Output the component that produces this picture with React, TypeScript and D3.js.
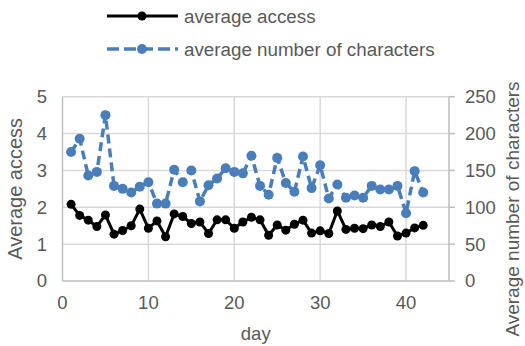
import React from "react";
import * as d3 from "d3";

const days: number[] = Array.from({ length: 42 }, (_, i) => i + 1);

const averageAccess: number[] = [
  2.08, 1.78, 1.65, 1.48, 1.79, 1.27, 1.37, 1.5, 1.95, 1.43,
  1.63, 1.2, 1.82, 1.75, 1.56, 1.6, 1.29, 1.66, 1.66, 1.43,
  1.6, 1.73, 1.66, 1.24, 1.52, 1.38, 1.54, 1.65, 1.3, 1.36,
  1.29, 1.9, 1.4, 1.43, 1.42, 1.52, 1.48, 1.6, 1.22, 1.3,
  1.44, 1.51,
];

const averageChars: number[] = [
  175, 193, 143, 148, 225, 129, 125, 120, 128, 134,
  105, 105, 151, 134, 150, 108, 130, 139, 153, 148,
  146, 170, 129, 117, 167, 133, 121, 169, 126, 157,
  112, 131, 113, 116, 113, 129, 124, 124, 129, 92,
  149, 120,
];

const xTicks: number[] = [0, 10, 20, 30, 40];
const yLeftTicks: number[] = [0, 1, 2, 3, 4, 5];
const yRightTicks: number[] = [0, 50, 100, 150, 200, 250];

const seriesNames: string[] = ["average access", "average number of characters"];

const W = 525;
const H = 346;
const left = 62.5;
const right = 449;
const top = 96.7;
const bottom = 281;

const BLUE = "#4a7ebb";
const TEXT = "#595959";
const GRID = "#d9d9d9";
const AXIS = "#bfbfbf";
const FONT = "'Liberation Sans', Arial, sans-serif";

export default function App() {
  const x = d3.scaleLinear().domain([0, 45]).range([left, right]);
  const yL = d3.scaleLinear().domain([0, 5]).range([bottom, top]);
  const yR = d3.scaleLinear().domain([0, 250]).range([bottom, top]);

  const blackLine = d3
    .line<number>()
    .x((_, i) => x(days[i]))
    .y((d) => yL(d))(averageAccess) as string;
  const blueLine = d3
    .line<number>()
    .x((_, i) => x(days[i]))
    .y((d) => yR(d))(averageChars) as string;

  return (
    <svg
      width={W}
      height={H}
      style={{ position: "absolute", left: 0, top: 0, background: "#fff" }}
      fontFamily={FONT}
    >
      <rect width={W} height={H} fill="#fff" />
      {yLeftTicks.filter((t) => t > 0).map((t) => (
        <line key={"h" + t} x1={left} x2={right} y1={yL(t)} y2={yL(t)} stroke={GRID} strokeWidth={1.5} />
      ))}
      {xTicks.filter((t) => t > 0).map((t) => (
        <line key={"v" + t} x1={x(t)} x2={x(t)} y1={top} y2={bottom} stroke={GRID} strokeWidth={1.5} />
      ))}
      <line x1={left} x2={left} y1={top} y2={bottom} stroke={AXIS} strokeWidth={1.5} />
      <line x1={left} x2={right} y1={bottom} y2={bottom} stroke={AXIS} strokeWidth={1.5} />
      <line x1={right} x2={right} y1={top} y2={bottom} stroke={AXIS} strokeWidth={1.5} />
      {yRightTicks.map((t) => (
        <line key={"rt" + t} x1={right} x2={right + 6} y1={yR(t)} y2={yR(t)} stroke={AXIS} strokeWidth={1.5} />
      ))}
      {yLeftTicks.map((t) => (
        <text key={"lt" + t} x={47} y={yL(t)} dy="0.35em" textAnchor="end" fontSize={18.5} fill={TEXT}>
          {t}
        </text>
      ))}
      {yRightTicks.map((t) => (
        <text key={"rl" + t} x={465} y={yR(t)} dy="0.35em" textAnchor="start" fontSize={18.5} fill={TEXT}>
          {t}
        </text>
      ))}
      {xTicks.map((t) => (
        <text key={"xl" + t} x={x(t)} y={303} dy="0.35em" textAnchor="middle" fontSize={18.5} fill={TEXT}>
          {t}
        </text>
      ))}
      <text x={(left + right) / 2} y={334} dy="0.35em" textAnchor="middle" fontSize={18.5} fill={TEXT}>
        day
      </text>
      <text
        transform={`translate(15,${(top + bottom) / 2}) rotate(-90)`}
        dy="0.35em"
        textAnchor="middle"
        fontSize={20}
        fill={TEXT}
      >
        Average access
      </text>
      <text
        transform={`translate(512,209) rotate(-90)`}
        dy="0.35em"
        textAnchor="middle"
        fontSize={19}
        fill={TEXT}
      >
        Average number of characters
      </text>
      <path d={blackLine} fill="none" stroke="#000" strokeWidth={3} strokeLinejoin="round" />
      {averageAccess.map((v, i) => (
        <circle key={"b" + i} cx={x(days[i])} cy={yL(v)} r={4.5} fill="#000" />
      ))}
      <path d={blueLine} fill="none" stroke={BLUE} strokeWidth={3.5} strokeDasharray="9,5" />
      {averageChars.map((v, i) => (
        <circle key={"c" + i} cx={x(days[i])} cy={yR(v)} r={5} fill={BLUE} />
      ))}
      <line x1={107} x2={178} y1={16} y2={16} stroke="#000" strokeWidth={3} />
      <circle cx={142} cy={16} r={4.5} fill="#000" />
      <text x={184} y={16} dy="0.35em" fontSize={18.8} fill={TEXT}>
        {seriesNames[0]}
      </text>
      <line x1={107} x2={178} y1={49} y2={49} stroke={BLUE} strokeWidth={3.5} strokeDasharray="12,5" />
      <circle cx={142} cy={49} r={5} fill={BLUE} />
      <text x={184} y={49} dy="0.35em" fontSize={18.8} fill={TEXT}>
        {seriesNames[1]}
      </text>
    </svg>
  );
}
